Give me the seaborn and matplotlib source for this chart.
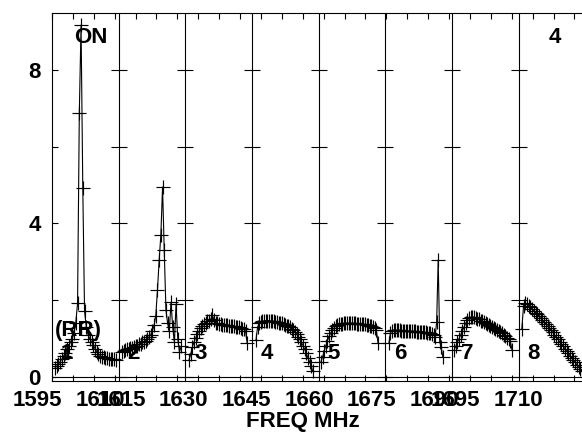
import numpy as np
import pandas as pd
import matplotlib
matplotlib.use("Agg")
import matplotlib.pyplot as plt
import matplotlib.transforms as mtransforms
import seaborn as sns

# first / last channel frequency (MHz) of each of the 8 sub-bands
band_start = [1595.7, 1611.75, 1627.8, 1643.8, 1659.35, 1675.6, 1691.2, 1707.4]
band_end = [1610.3, 1625.9, 1641.7, 1657.4, 1673.0, 1688.5, 1705.05, 1721.8]

flux_1 = [0.23, 0.28, 0.33, 0.40, 0.47, 0.55, 0.62, 0.72, 0.82, 0.92, 1.00, 1.15,
          1.42, 1.93, 6.87, 9.17, 4.92, 1.72, 1.30, 1.10, 1.00, 0.92, 0.84, 0.74,
          0.66, 0.60, 0.56, 0.53, 0.51, 0.50, 0.49, 0.48, 0.47, 0.47, 0.46, 0.45]
flux_2 = [0.65, 0.68, 0.70, 0.72, 0.73, 0.75, 0.76, 0.78, 0.80, 0.82, 0.85, 0.87,
          0.90, 0.92, 0.95, 0.98, 1.05, 1.10, 1.20, 1.35, 1.60, 2.27, 3.05, 3.70,
          4.95, 3.30, 1.75, 1.40, 1.20, 1.95, 1.30, 0.90, 1.90, 1.00, 0.65, 0.80]
flux_3 = [0.45, 0.60, 0.78, 0.92, 1.02, 1.12, 1.20, 1.27, 1.33, 1.38, 1.42, 1.45,
          1.47, 1.50, 1.62, 1.48, 1.42, 1.40, 1.38, 1.37, 1.36, 1.36, 1.35, 1.35,
          1.34, 1.33, 1.33, 1.32, 1.31, 1.30, 1.29, 1.28, 1.26, 1.24, 1.20, 0.88]
flux_4 = [0.96, 1.30, 1.40, 1.43, 1.45, 1.46, 1.47, 1.47, 1.47, 1.46, 1.46, 1.45,
          1.44, 1.43, 1.42, 1.41, 1.40, 1.38, 1.36, 1.34, 1.32, 1.29, 1.26, 1.22,
          1.18, 1.12, 1.05, 0.98, 0.90, 0.82, 0.72, 0.62, 0.50, 0.40, 0.28, 0.15]
flux_5 = [0.40, 0.52, 0.68, 0.82, 0.95, 1.06, 1.15, 1.22, 1.28, 1.32, 1.35, 1.37,
          1.38, 1.39, 1.40, 1.40, 1.40, 1.40, 1.40, 1.40, 1.40, 1.40, 1.39, 1.39,
          1.38, 1.38, 1.37, 1.37, 1.36, 1.35, 1.34, 1.33, 1.31, 1.28, 1.22, 0.88]
flux_6 = [0.88, 1.15, 1.20, 1.22, 1.22, 1.22, 1.22, 1.22, 1.21, 1.21, 1.21, 1.20,
          1.20, 1.20, 1.20, 1.19, 1.19, 1.19, 1.18, 1.18, 1.18, 1.17, 1.17, 1.16,
          1.16, 1.15, 1.15, 1.14, 1.12, 1.10, 1.05, 1.43, 3.05, 0.91, 0.78, 0.52]
flux_7 = [0.70, 0.80, 0.90, 1.00, 1.10, 1.20, 1.30, 1.40, 1.48, 1.53, 1.56, 1.57,
          1.56, 1.54, 1.52, 1.50, 1.47, 1.45, 1.43, 1.41, 1.38, 1.36, 1.33, 1.31,
          1.28, 1.26, 1.23, 1.20, 1.17, 1.14, 1.10, 1.06, 1.02, 0.98, 0.94, 0.70]
flux_8 = [1.25, 1.85, 1.93, 1.90, 1.86, 1.82, 1.78, 1.73, 1.68, 1.63, 1.58, 1.53,
          1.48, 1.43, 1.38, 1.32, 1.27, 1.22, 1.16, 1.10, 1.04, 0.98, 0.92, 0.86,
          0.80, 0.74, 0.68, 0.62, 0.56, 0.50, 0.44, 0.38, 0.32, 0.26, 0.21, 0.16]
fluxes = [flux_1, flux_2, flux_3, flux_4, flux_5, flux_6, flux_7, flux_8]
panel_labels = ['1', '2', '3', '4', '5', '6', '7', '8']

xtick_vals = [1595, 1610, 1615, 1630, 1645, 1660, 1675, 1690, 1695, 1710]

# build one long table, one row per channel
frames = []
for k, flux in enumerate(fluxes):
    freq = np.linspace(band_start[k], band_end[k], len(flux))
    frames.append(pd.DataFrame({'freq': freq, 'flux': flux, 'panel': k + 1}))
df = pd.concat(frames, ignore_index=True)

FS = 16

sns.set_style("ticks")
plt.rcParams['font.family'] = ['Liberation Sans', 'DejaVu Sans']
plt.rcParams['font.weight'] = 'bold'
plt.rcParams['font.size'] = FS
for key in ['text.color', 'axes.labelcolor', 'xtick.color', 'ytick.color',
            'axes.edgecolor']:
    plt.rcParams[key] = 'black'

fig = plt.figure(figsize=(5.82, 4.34), dpi=100)
ax = fig.add_axes([0.0893, 0.1228, 0.9107, 0.8479])

sns.lineplot(data=df, x='freq', y='flux', units='panel', estimator=None,
             sort=False, color='black', linewidth=0.8, marker='+',
             markersize=10, markeredgewidth=0.85, markeredgecolor='black', ax=ax)

ax.set_xlim(1595, 1721.8)
ax.set_ylim(-0.096, 9.49)

# panel separators with small cross ticks
width = 15.957
bounds = [1595 + width * k for k in range(1, 8)]
for b in bounds:
    ax.axvline(b, color='black', linewidth=0.8)
bx = np.repeat(bounds, 5)
by = np.tile([0, 2, 4, 6, 8], len(bounds))
ax.plot(bx, by, linestyle='none', marker='_', markersize=11,
        markeredgewidth=0.8, color='black')
ax.axhline(0, color='black', linewidth=0.8)

# panel numbers and annotations
for k, lab in enumerate(panel_labels):
    ax.text(1595 + width * k + 3.6, 0.62, lab, ha='center', va='center',
            fontweight='bold', fontsize=FS, color='black')
ax.text(1604.4, 8.85, 'ON', ha='center', va='center', fontweight='bold',
        fontsize=FS, color='black')
ax.text(1715.4, 8.85, '4', ha='center', va='center', fontweight='bold',
        fontsize=FS, color='black')
ax.text(1601.2, 1.22, '(RR)', ha='center', va='center', fontweight='bold',
        fontsize=FS, color='black')

# axes, ticks
ax.set_yticks([0, 4, 8])
ax.set_yticklabels(['0', '4', '8'])
ax.set_yticks([2, 6], minor=True)
ax.tick_params(axis='y', which='both', direction='in', length=4.5, width=0.8,
               left=True, right=False, pad=8, colors='black')

ax.xaxis.remove_overlapping_locs = False
ax.set_xticks(xtick_vals)
ax.set_xticklabels([str(v) for v in xtick_vals])
ax.set_xticks(np.arange(1595, 1722, 5), minor=True)
ax.tick_params(axis='x', which='major', length=0, pad=6.5, colors='black')
ax.tick_params(axis='x', which='minor', direction='in', length=4, width=0.8,
               top=True, bottom=True, colors='black')
shift = mtransforms.ScaledTranslation(-0.145, 0, fig.dpi_scale_trans)
for lbl in ax.get_xticklabels():
    lbl.set_transform(lbl.get_transform() + shift)

ax.set_xlabel('')
ax.set_ylabel('')
for side in ['left', 'top', 'bottom']:
    ax.spines[side].set_color('black')
    ax.spines[side].set_linewidth(0.8)
ax.spines['right'].set_visible(False)

fig.text(303 / 582, 1 - 422 / 434, 'FREQ MHz', ha='center', va='center',
         fontweight='bold', fontsize=FS, color='black')

fig.savefig('out.png', dpi=100)
